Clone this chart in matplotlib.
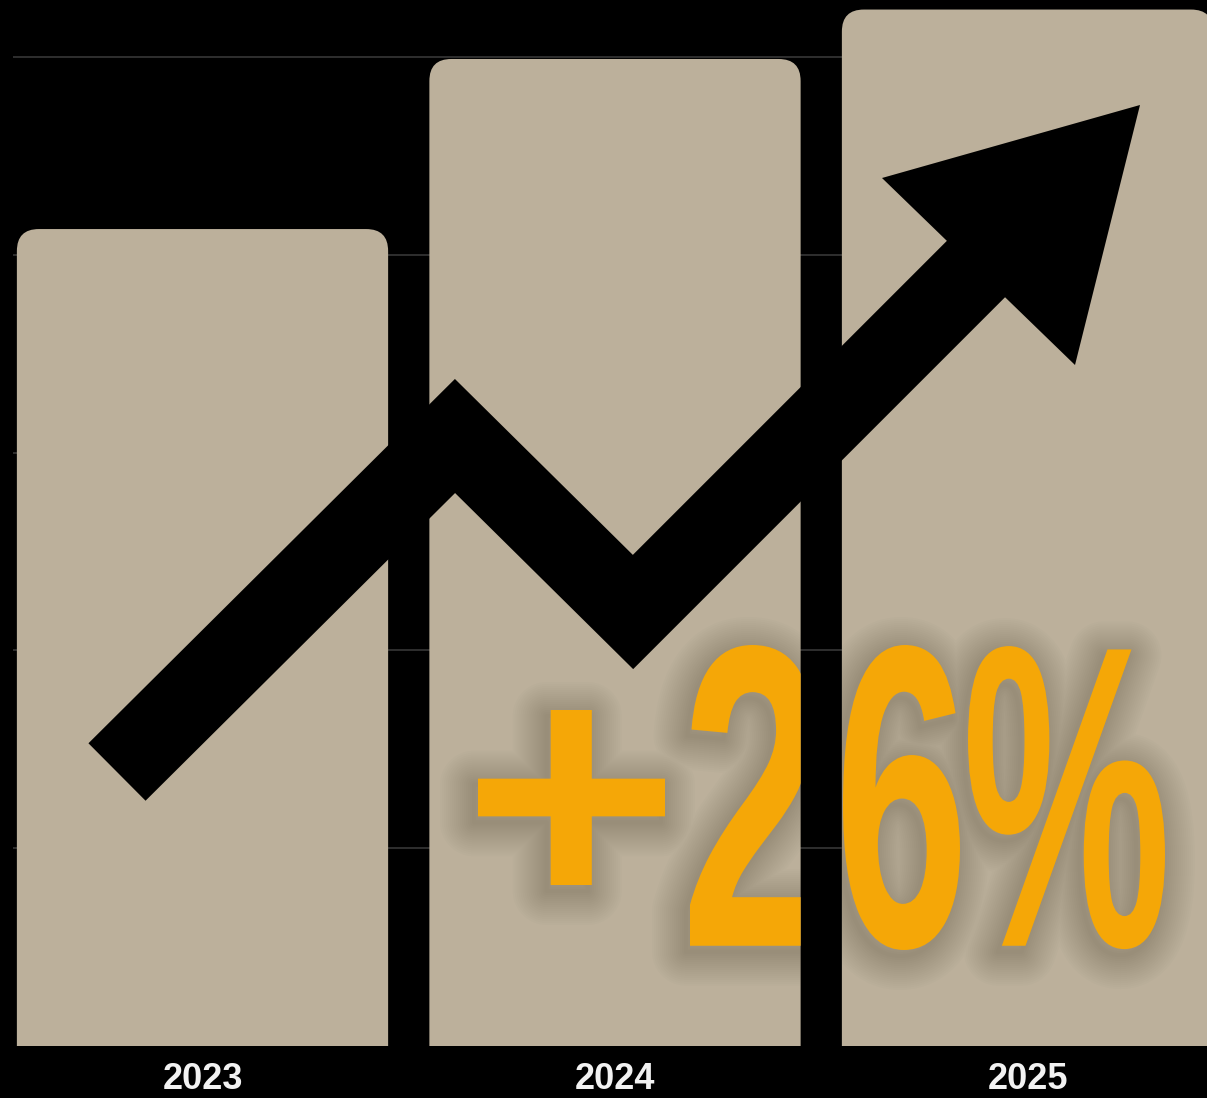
import matplotlib
matplotlib.use("Agg")
import numpy as np
import matplotlib.pyplot as plt
from matplotlib import font_manager as fm
from matplotlib import patheffects
from matplotlib.lines import Line2D
from matplotlib.patches import FancyBboxPatch, Polygon
from matplotlib.path import Path
from matplotlib.textpath import TextPath
from matplotlib.transforms import Affine2D, IdentityTransform

years = ["2023", "2024", "2025"]
values = [4.13, 4.99, 5.24]
grid_levels = [1, 2, 3, 4, 5]
headline = "+26%"

W, H, DPI = 1207, 1098, 100
bg = "#000000"
bar_color = "#BCB09B"
accent = "#F5A707"
shadow_color = "#3a3128"

# pixel layout, measured from the top-left corner
base_px = 1045.75
unit_px = 197.75
first_px = 202.5
pitch_px = 412.5
left_px = 13
radius_px = 22

# decorative trend arrow (pixels)
shaft = [(117, 772), (455, 436), (633, 612), (990, 255)]
head = [(1140, 105), (882, 178), (1075, 365)]
shaft_px = 81
# headline: ink top/bottom, left/right edge of each glyph, rows of the plus sign
headline_top, headline_bottom = 645, 950
glyph_edges = [478, 665, 690, 815, 843, 960, 968, 1165]
plus_rows = (710, 885)
shadow_layers = [(w, 0.015) for w in range(68, 0, -4)]
shadow_offset = (-4, 6)


def pick_font(names):
    for n in names:
        try:
            fm.findfont(fm.FontProperties(family=n, weight="bold"), fallback_to_default=False)
            return n
        except ValueError:
            pass
    return "DejaVu Sans"


class FitGlyphs(patheffects.AbstractPathEffect):
    """Stretch each glyph of the text onto given x edges, with a soft shadow."""

    def __init__(self, edges, first_rows, trans, layers, offset_px):
        super().__init__()
        self.edges, self.first_rows, self.trans = edges, first_rows, trans
        self.layers, self.offset_px = layers, offset_px

    def draw_path(self, renderer, gc, tpath, affine, rgbFace=None):
        p = affine.transform_path(tpath)
        v = p.vertices.copy()
        codes = p.codes
        real = codes != Path.CLOSEPOLY
        starts = np.flatnonzero(codes == Path.MOVETO)
        ends = list(starts[1:]) + [len(v)]
        spans = []
        for s, e in zip(starts, ends):
            xs = v[s:e, 0][real[s:e]]
            spans.append([xs.min(), xs.max()])
        spans.sort()
        groups = []
        for a, b in spans:
            if groups and a <= groups[-1][1]:
                groups[-1][1] = max(groups[-1][1], b)
            else:
                groups.append([a, b])
        src = [x for g in groups for x in g]
        dst = [self.trans.transform((x, 0))[0] for x in self.edges]
        if len(src) == len(dst):
            g0 = (v[:, 0] >= groups[0][0] - 0.5) & (v[:, 0] <= groups[0][1] + 0.5)
            ys = v[g0 & real, 1]
            lo = self.trans.transform((0, self.first_rows[1]))[1]
            hi = self.trans.transform((0, self.first_rows[0]))[1]
            v[g0, 1] = lo + (v[g0, 1] - ys.min()) * (hi - lo) / (ys.max() - ys.min())
        else:
            src, dst = [src[0], src[-1]], [dst[0], dst[-1]]
        v[:, 0] = np.interp(v[:, 0], src, dst)
        fitted = Path(v, codes)
        ident = IdentityTransform()
        shift = Affine2D().translate(self.offset_px[0], -self.offset_px[1])
        p2px = renderer.points_to_pixels(1.0)
        for lw, a in self.layers:
            g = renderer.new_gc()
            g.copy_properties(gc)
            g.set_linewidth(lw / p2px)
            g.set_foreground(shadow_color)
            g.set_alpha(a)
            g.set_joinstyle("round")
            renderer.draw_path(g, fitted, shift, None)
            g.restore()
        renderer.draw_path(gc, fitted, ident, rgbFace)


label_font = pick_font(["Liberation Sans", "DejaVu Sans"])
big_font = pick_font(["Liberation Sans Narrow", "Liberation Sans", "DejaVu Sans"])

fig = plt.figure(figsize=(W / DPI, H / DPI), dpi=DPI, facecolor=bg)
ax = fig.add_axes([left_px / W, (H - base_px) / H, 1 - left_px / W, base_px / H])
ax.set_facecolor(bg)

bars = ax.bar(years, values, width=0.9, color=bar_color, zorder=2)

aspect = pitch_px / unit_px
r = radius_px / pitch_px
rounded = []
for rect in bars:
    rect.set_visible(False)
    p = FancyBboxPatch((rect.get_x(), -1), rect.get_width(), rect.get_height() + 1,
                       boxstyle=f"round,pad=0,rounding_size={r}", mutation_aspect=aspect,
                       fc=bar_color, ec="none", zorder=2)
    ax.add_patch(p)
    rounded.append(p)

ax.set_xlim((left_px - first_px) / pitch_px, (W - first_px) / pitch_px)
ax.set_ylim(0, base_px / unit_px)

ax.set_yticks(grid_levels)
ax.grid(axis="y", color="#323232", linewidth=1.3)
ax.grid(axis="x", visible=False)
ax.set_axisbelow(True)
ax.tick_params(axis="y", length=0, labelleft=False)
ax.tick_params(axis="x", length=0, pad=12, labelsize=26, labelcolor="#f2f2f2")
for lbl in ax.get_xticklabels():
    lbl.set_fontfamily(label_font)
    lbl.set_fontweight("bold")
for s in ax.spines.values():
    s.set_visible(False)

px = Affine2D().scale(1 / W, -1 / H).translate(0, 1) + fig.transFigure

sx_, sy_ = zip(*shaft)
ax.add_line(Line2D(sx_, sy_, transform=px, color="black", linewidth=shaft_px * 72 / DPI,
                   solid_joinstyle="miter", solid_capstyle="butt", zorder=3, clip_on=False))
ax.add_patch(Polygon(head, closed=True, transform=px, fc="black", ec="none",
                     zorder=3, clip_on=False))

fp = fm.FontProperties(family=big_font, weight="bold")
ext = TextPath((0, 0), headline, size=1, prop=fp).get_extents()
fs_px = (headline_bottom - headline_top) / ext.height
fp.set_size(fs_px * 72 / DPI)
txt = ax.text(glyph_edges[0] - ext.x0 * fs_px, headline_bottom + ext.y0 * fs_px, headline,
              transform=px, fontproperties=fp, color=accent, ha="left", va="baseline",
              zorder=4, clip_on=True)
txt.set_clip_path(Path.make_compound_path(*[p.get_path() for p in rounded]), ax.transData)
txt.set_path_effects([FitGlyphs(glyph_edges, plus_rows, px, shadow_layers, shadow_offset)])

fig.savefig("out.png", dpi=DPI, facecolor=bg)
